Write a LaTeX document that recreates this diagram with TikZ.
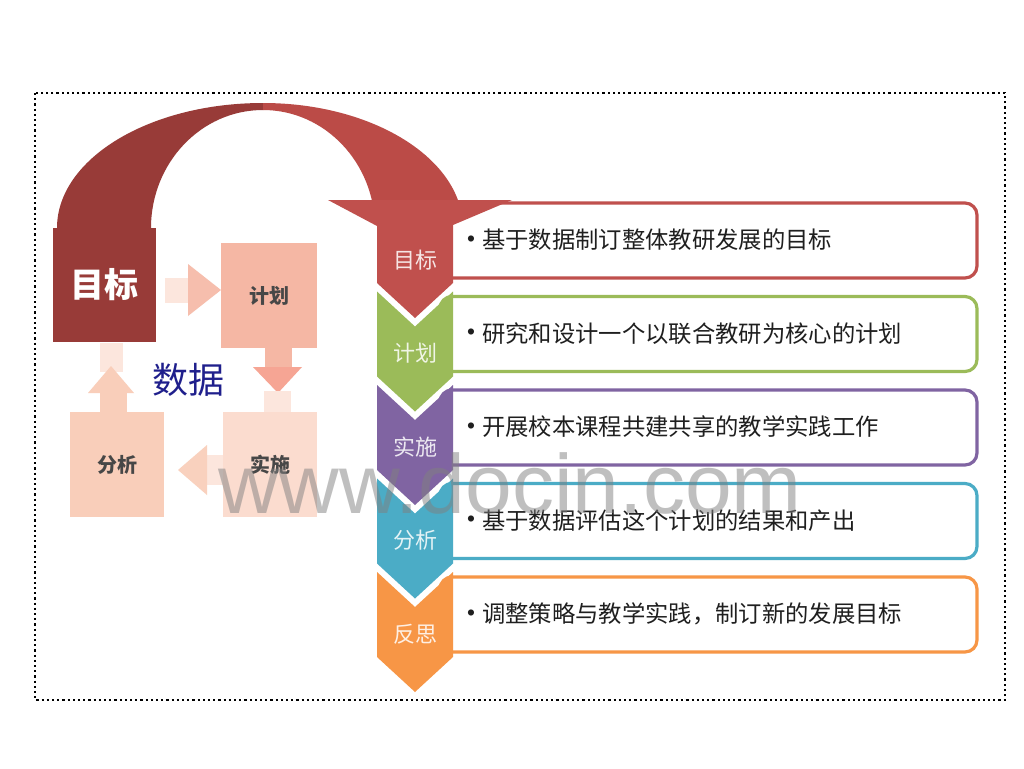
\documentclass[tikz,border=0pt]{standalone}
\usepackage{fontspec}
\newfontfamily\cjk{Noto Sans CJK SC}
\newfontfamily\wmfont{Liberation Sans}
\definecolor{cRed}{HTML}{C0504D}
\definecolor{cGreen}{HTML}{9BBB59}
\definecolor{cPurple}{HTML}{8064A2}
\definecolor{cBlue}{HTML}{4BACC6}
\definecolor{cOrange}{HTML}{F79646}
\definecolor{arcdark}{HTML}{983B38}
\definecolor{arcred}{HTML}{BB4B47}
\definecolor{planfill}{HTML}{F5B7A4}
\definecolor{implfill}{HTML}{FBDCCF}
\definecolor{analfill}{HTML}{F9CEBA}
\definecolor{palefill}{HTML}{FCE6DD}
\definecolor{datablue}{HTML}{1F1F8C}
\begin{document}
\begin{tikzpicture}[x=0.75pt,y=-0.75pt,
  lbl/.style={inner sep=0, font=\cjk\fontsize{16.5pt}{18pt}\selectfont},
  rowtext/.style={inner sep=0, anchor=west, text=black!88, font=\cjk\fontsize{17.5pt}{20pt}\selectfont},
  bulletmark/.style={inner sep=0, text=black!88, font=\wmfont\fontsize{17pt}{18pt}\selectfont},
  rowbox/.style={line width=2.4pt, rounded corners=9pt, fill=white},
  cyclebox/.style={inner sep=0, text=black!72, font=\cjk\bfseries\fontsize{15pt}{17pt}\selectfont}]
\useasboundingbox (0,0) rectangle (1024,768);
\fill[white] (0,0) rectangle (1024,768);
% dotted frame
\draw[dash pattern=on 1.6pt off 2.3pt, line width=2pt] (35,93) rectangle (1005,700);

% big curved arrow band
\fill[arcdark] (57,228) .. controls (57,159) and (149,103) .. (263,103) -- (263,110)
   .. controls (201,110) and (151,163) .. (151,228) -- cycle;
\begin{scope}
\clip (0,0) rectangle (1024,205);
\fill[arcred] (263,103) .. controls (373,103) and (463,159) .. (463,228) -- (375,228)
   .. controls (375,163) and (325,110) .. (263,110) -- cycle;
\end{scope}

% cycle: block arrows
\fill[palefill] (165,278) rectangle (192,303);
\fill[planfill!85!palefill] (188,264) -- (221,290) -- (188,316) -- cycle;
\fill[planfill] (265,345) rectangle (292,368);
\fill[planfill!90!red] (253,367) -- (302,367) -- (278,393) -- cycle;
\fill[palefill] (264,391) rectangle (291,413);
\fill[palefill] (205,455) rectangle (224,485);
\fill[analfill!80!implfill] (207,445) -- (207,495) -- (178,470) -- cycle;
\fill[palefill] (100,343) rectangle (123,372);
\fill[analfill] (100,390) rectangle (127,413);
\fill[analfill] (88,393) -- (134,393) -- (111,366) -- cycle;

% cycle boxes
\node[fill=arcdark, minimum width=77.25pt, minimum height=85.5pt, inner sep=0, text=white,
      font=\cjk\bfseries\fontsize{25.5pt}{28pt}\selectfont] (goal) at (104.5,285) {目标};
\node[cyclebox, fill=planfill, minimum width=72pt, minimum height=78.75pt] (plan) at (269,295.5) {计划};
\node[cyclebox, fill=implfill, minimum width=70.5pt, minimum height=78.75pt] (impl) at (270,464.5) {实施};
\node[cyclebox, fill=analfill, minimum width=70.5pt, minimum height=78.75pt] (anal) at (117,464.5) {分析};
\node[inner sep=0, text=datablue, font=\cjk\fontsize{27pt}{30pt}\selectfont] (data) at (188,380) {数据};

% row boxes
\foreach \i/\col in {0/cRed,1/cGreen,2/cPurple,3/cBlue,4/cOrange} {
  \pgfmathsetmacro\T{198+93.5*\i}
  \draw[rowbox, draw=\col] (440,{\T+5}) rectangle (977,{\T+80});
}

% red arrow head / first chevron
\fill[cRed] (328,200) -- (512,200) -- (453,225) -- (453,283) -- (415,318) -- (377,283) -- (377,226) -- cycle;
% other chevrons
\foreach \i/\col in {1/cGreen,2/cPurple,3/cBlue,4/cOrange} {
  \pgfmathsetmacro\T{198+93.5*\i}
  \fill[\col] (377,\T) -- (415,{\T+35}) -- (453,\T) -- (453,{\T+85}) -- (415,{\T+120}) -- (377,{\T+85}) -- cycle;
}

% labels and texts
\foreach \i/\col/\lab/\txt in {0/cRed/目标/基于数据制订整体教研发展的目标,
    1/cGreen/计划/研究和设计一个以联合教研为核心的计划,
    2/cPurple/实施/开展校本课程共建共享的教学实践工作,
    3/cBlue/分析/基于数据评估这个计划的结果和产出,
    4/cOrange/反思/调整策略与教学实践，制订新的发展目标} {
  \pgfmathsetmacro\T{198+93.5*\i}
  \node[lbl, text=\col!15!white] (lab\i) at (415,{\T+62}) {\lab};
  \node[bulletmark] (bul\i) at (471,{\T+43}) {•};
  \node[rowtext] (txt\i) at (482,{\T+42}) {\txt};
}

% watermark
\node[inner sep=0, anchor=base, text=gray, opacity=0.5,
      font=\wmfont\fontsize{63pt}{63pt}\selectfont] (wm) at (510,513) {www.docin.com};
\end{tikzpicture}
\end{document}
